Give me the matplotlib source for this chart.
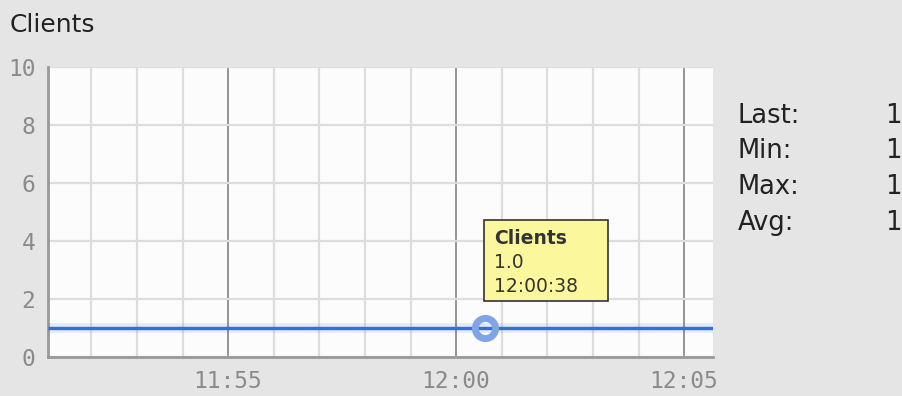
import matplotlib
matplotlib.use("Agg")
import matplotlib.pyplot as plt
import matplotlib.dates as mdates
from matplotlib.patches import Rectangle
from matplotlib.transforms import IdentityTransform
from datetime import datetime

day = "2014-03-10 "
times = ["11:51:03", "12:00:38", "12:05:38"]
clients = [1.0, 1.0, 1.0]
hover_time = "12:00:38"
hover_value = 1.0
y_ticks = [0, 2, 4, 6, 8, 10]
stat_names = ["Last:", "Min:", "Max:", "Avg:"]
stat_values = ["1", "1", "1", "1"]


def ts(s):
    return datetime.strptime(day + s, "%Y-%m-%d %H:%M:%S")


x = [ts(t) for t in times]

fig = plt.figure(figsize=(9.03, 3.96), dpi=100, facecolor="#e5e5e5")
ax = fig.add_axes([48 / 903, 39 / 396, 665 / 903, 290 / 396])
ax.set_facecolor("#fcfcfc")

# line with a soft shadow under it
ax.plot(x, clients, color="#3366cc", lw=7, alpha=0.12, zorder=3,
        solid_capstyle="butt")
ax.plot(x, clients, color="#3a6cd6", lw=2.4, zorder=4, solid_capstyle="butt")

hx = ts(hover_time)
ax.plot([hx], [hover_value], "o", ms=14.5, mfc="none", mec="#7fa4e8",
        mew=5, zorder=5)

ax.set_xlim(x[0], x[-1])
ax.set_ylim(0, 10)
ax.set_yticks(y_ticks)

ax.xaxis.set_major_locator(mdates.MinuteLocator(byminute=range(0, 60, 5)))
ax.xaxis.set_minor_locator(mdates.MinuteLocator())
ax.xaxis.set_major_formatter(mdates.DateFormatter("%H:%M"))

ax.grid(which="minor", axis="x", color="#dddddd", lw=1.6)
ax.grid(which="major", axis="x", color="#8c8c8c", lw=1.3)
ax.grid(which="major", axis="y", color="#dddddd", lw=1.6)
ax.set_axisbelow(True)

for side in ("top", "right"):
    ax.spines[side].set_visible(False)
for side in ("left", "bottom"):
    ax.spines[side].set_color("#999999")
    ax.spines[side].set_linewidth(2)

ax.tick_params(which="both", length=0)
ax.tick_params(axis="y", pad=9)
ax.tick_params(axis="x", pad=9)
for lab in ax.get_xticklabels() + ax.get_yticklabels():
    lab.set_fontfamily("DejaVu Sans Mono")
    lab.set_fontsize(16.5)
    lab.set_color("#8a8a8a")

fig.text(10, 371, "Clients", transform=IdentityTransform(), fontsize=18,
         color="#222222", va="center", ha="left")

for i, (name, val) in enumerate(zip(stat_names, stat_values)):
    yy = 280 - i * 35.5
    fig.text(738, yy, name, transform=IdentityTransform(), fontsize=18.5,
             color="#222222", va="center")
    fig.text(885, yy, val, transform=IdentityTransform(), fontsize=18.5,
             color="#222222", va="center")

# hover tooltip anchored to the marker
px, py = ax.transData.transform((mdates.date2num(hx), hover_value))
fig.patches.append(Rectangle((px - 1, py + 27), 124, 81, transform=IdentityTransform(),
                             facecolor="#fbf79c", edgecolor="#333333", lw=1.2,
                             zorder=10))
tip = ["Clients", "%.1f" % hover_value, hover_time]
for i, line in enumerate(tip):
    fig.text(px + 9, py + 89 - i * 24, line, transform=IdentityTransform(),
             fontsize=13.5, color="#333333", va="center", ha="left",
             fontweight="bold" if i == 0 else "normal", zorder=11)

fig.savefig("out.png", dpi=100, facecolor=fig.get_facecolor())
